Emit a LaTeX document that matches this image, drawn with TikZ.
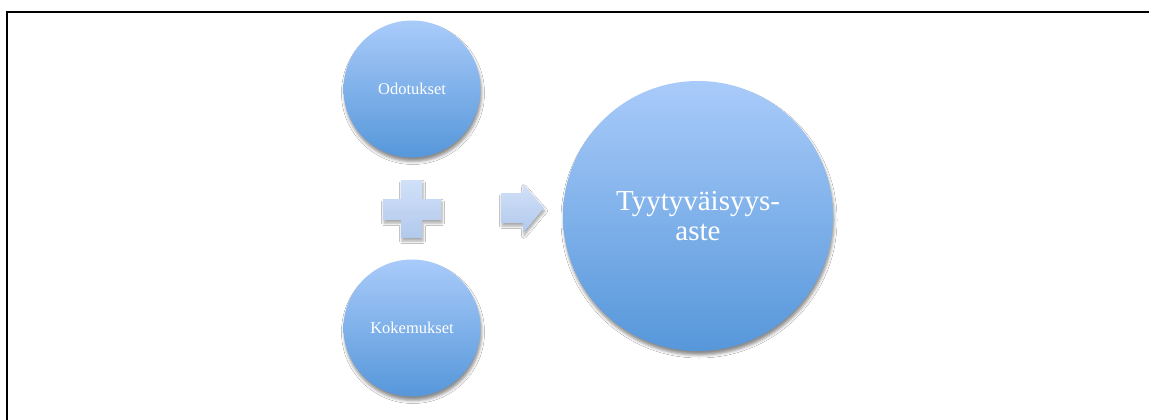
\documentclass[tikz,border=0pt]{standalone}
\usepackage{fontspec}
\setmainfont{Liberation Serif}
\usetikzlibrary{shadows.blur}
\definecolor{ctop}{HTML}{A9CBFA}
\definecolor{cbot}{HTML}{5697DA}
\definecolor{ptop}{HTML}{D0E0F8}
\definecolor{pbot}{HTML}{B2C9EC}
\tikzset{
  ball/.style={circle, draw=none, top color=ctop, bottom color=cbot, text=white, align=center, inner sep=0pt,
    blur shadow={shadow xshift=1pt, shadow yshift=-4pt, shadow blur radius=3pt, shadow opacity=45}},
  sign/.style={draw=none, top color=ptop, bottom color=pbot,
    blur shadow={shadow xshift=1pt, shadow yshift=-3pt, shadow blur radius=2.5pt, shadow opacity=35}},
  frame/.style={line width=2pt, black}
}
\begin{document}
\begin{tikzpicture}[x=1pt,y=-1pt]
\useasboundingbox (0,0) rectangle (1149,420);
\fill[white] (-6,-6) rectangle (1156,426);
\draw[frame] (7,426) -- (7,12) -- (1156,12);
\node[ball, minimum size=137pt, font=\fontsize{16.5}{19}\selectfont] (odo) at (412,89) {Odotukset};
\node[ball, minimum size=137pt, font=\fontsize{16.5}{19}\selectfont] (kok) at (412,328) {Kokemukset};
\node[ball, minimum size=270pt, font=\fontsize{29}{30}\selectfont] (tyy) at (698,216) {Tyytyväisyys-\\aste};
% plus sign
\path[sign] (401,180) -- (422,180) -- (422,199) -- (441,199) -- (441,220) -- (422,220) -- (422,238)
  -- (401,238) -- (401,220) -- (383,220) -- (383,199) -- (401,199) -- cycle;
% block arrow
\path[sign] (501,193) -- (523,193) -- (523,184) -- (544,208) -- (523,233) -- (523,223) -- (501,223) -- cycle;
\end{tikzpicture}
\end{document}
